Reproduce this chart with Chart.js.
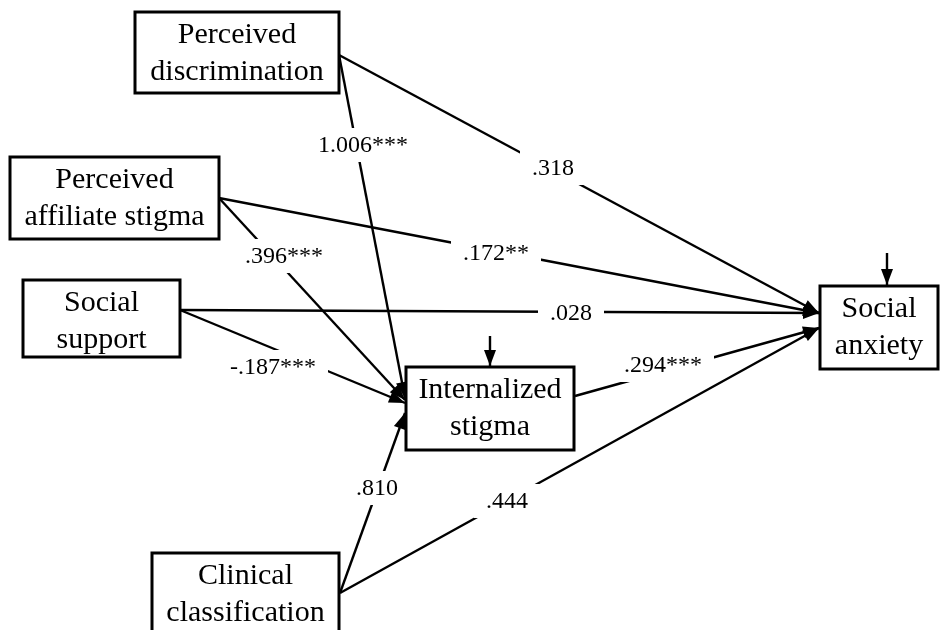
<!DOCTYPE html>
<html>
<head>
<meta charset="utf-8">
<script src="https://cdn.jsdelivr.net/npm/chart.js@4.4.1/dist/chart.umd.min.js"></script>
<style>
  html, body { margin: 0; padding: 0; background: #fff; }
  #wrap { width: 942px; height: 630px; }
</style>
</head>
<body>
<div id="wrap"><canvas id="chartPath" width="942" height="630"></canvas></div>
<script>
// path model: variables, paths and their coefficients
const nodeNames = [
    ["Perceived", "discrimination"],
    ["Perceived", "affiliate stigma"],
    ["Social", "support"],
    ["Internalized", "stigma"],
    ["Social", "anxiety"],
    ["Clinical", "classification"],
];
const pathFrom = [0, 0, 1, 1, 2, 2, 3, 5, 5];
const pathTo = [3, 4, 3, 4, 3, 4, 4, 3, 4];
const coefficients = [1.006, 0.318, 0.396, 0.172, -0.187, 0.028, 0.294, 0.810, 0.444];
const significance = ["***", "", "***", "**", "***", "", "***", "", ""];
const residualNodes = [3, 4];

// layout (diagram units = pixels of the 942x630 plot)
const boxes = [
    [135, 12, 339, 93],
    [10, 157, 219, 239],
    [23, 280, 180, 357],
    [406, 367, 574, 450],
    [820, 286, 938, 369],
    [152, 553, 339, 636],
];
const pathStart = [[339, 55], [339, 55], [219, 198], [219, 198], [180, 310], [180, 310], [575, 396], [340, 593], [340, 593]];
const pathEnd = [[405, 398], [819, 313], [405, 400], [819, 313], [405, 403], [819, 313], [819, 328], [405, 413], [819, 328]];
const labelPos = [[363, 145], [553, 168], [284, 256], [496, 253], [273, 367], [571, 313], [663, 365], [377, 488], [507, 501]];
const residualStart = [[490, 336], [887, 253]];
const residualEnd = [[490, 366], [887, 285]];

const fmtCoef = (v, s) => {
    const t = Math.abs(v).toFixed(3).replace(/^0/, "");
    return (v < 0 ? "-" : "") + t + s;
};

const datasets = pathFrom.map((f, i) => ({
    label: nodeNames[f].join(" ") + " -> " + nodeNames[pathTo[i]].join(" "),
    data: [
        { x: pathStart[i][0], y: pathStart[i][1] },
        { x: pathEnd[i][0], y: pathEnd[i][1] },
    ],
    showLine: true,
    borderColor: "#000",
    borderWidth: 2.4,
    pointRadius: 0,
    arrow: true,
    coef: fmtCoef(coefficients[i], significance[i]),
    labelAt: labelPos[i],
}));

residualNodes.forEach((n, i) => {
    datasets.push({
        label: "residual " + nodeNames[n].join(" "),
        data: [
            { x: residualStart[i][0], y: residualStart[i][1] },
            { x: residualEnd[i][0], y: residualEnd[i][1] },
        ],
        showLine: true,
        borderColor: "#000",
        borderWidth: 2.4,
        pointRadius: 0,
        arrow: true,
    });
});

const diagramPlugin = {
    id: "diagram",
    afterDatasetsDraw(chart) {
        const { ctx, scales } = chart;
        const px = (v) => scales.x.getPixelForValue(v);
        const py = (v) => scales.y.getPixelForValue(v);
        ctx.save();

        // arrowheads
        chart.data.datasets.forEach((ds) => {
            if (!ds.arrow) return;
            const a = ds.data[0], b = ds.data[1];
            const x1 = px(a.x), y1 = py(a.y), x2 = px(b.x), y2 = py(b.y);
            const ang = Math.atan2(y2 - y1, x2 - x1);
            const len = 16, half = 6;
            ctx.fillStyle = "#000";
            ctx.beginPath();
            ctx.moveTo(x2, y2);
            ctx.lineTo(x2 - len * Math.cos(ang) - half * Math.sin(ang), y2 - len * Math.sin(ang) + half * Math.cos(ang));
            ctx.lineTo(x2 - len * Math.cos(ang) + half * Math.sin(ang), y2 - len * Math.sin(ang) - half * Math.cos(ang));
            ctx.closePath();
            ctx.fill();
        });

        // coefficient labels on white so the line breaks around them
        ctx.font = "24px 'Liberation Serif', 'Times New Roman', serif";
        ctx.textAlign = "center";
        ctx.textBaseline = "middle";
        chart.data.datasets.forEach((ds) => {
            if (!ds.coef) return;
            const x = px(ds.labelAt[0]), y = py(ds.labelAt[1]);
            const w = ctx.measureText(ds.coef).width;
            ctx.fillStyle = "#fff";
            ctx.fillRect(x - w / 2 - 12, y - 17, w + 24, 34);
            ctx.fillStyle = "#000";
            ctx.fillText(ds.coef, x, y + 1);
        });

        // variable boxes
        ctx.font = "30px 'Liberation Serif', 'Times New Roman', serif";
        boxes.forEach((b, i) => {
            const x1 = px(b[0]), y1 = py(b[1]), x2 = px(b[2]), y2 = py(b[3]);
            ctx.fillStyle = "#fff";
            ctx.fillRect(x1, y1, x2 - x1, y2 - y1);
            ctx.strokeStyle = "#000";
            ctx.lineWidth = 3;
            ctx.strokeRect(x1, y1, x2 - x1, y2 - y1);
            const cx = (x1 + x2) / 2;
            const top = y1;
            ctx.fillStyle = "#000";
            ctx.fillText(nodeNames[i][0], cx, top + 23);
            ctx.fillText(nodeNames[i][1], cx, top + 60);
        });

        ctx.restore();
    },
};

new Chart(document.getElementById("chartPath"), {
    type: "scatter",
    data: { datasets },
    options: {
        responsive: false,
        animation: false,
        layout: { padding: 0 },
        plugins: {
            legend: { display: false },
            tooltip: { enabled: false },
        },
        scales: {
            x: { type: "linear", min: 0, max: 942, display: false },
            y: { type: "linear", min: 0, max: 630, reverse: true, display: false },
        },
    },
    plugins: [diagramPlugin],
});
</script>
</body>
</html>
